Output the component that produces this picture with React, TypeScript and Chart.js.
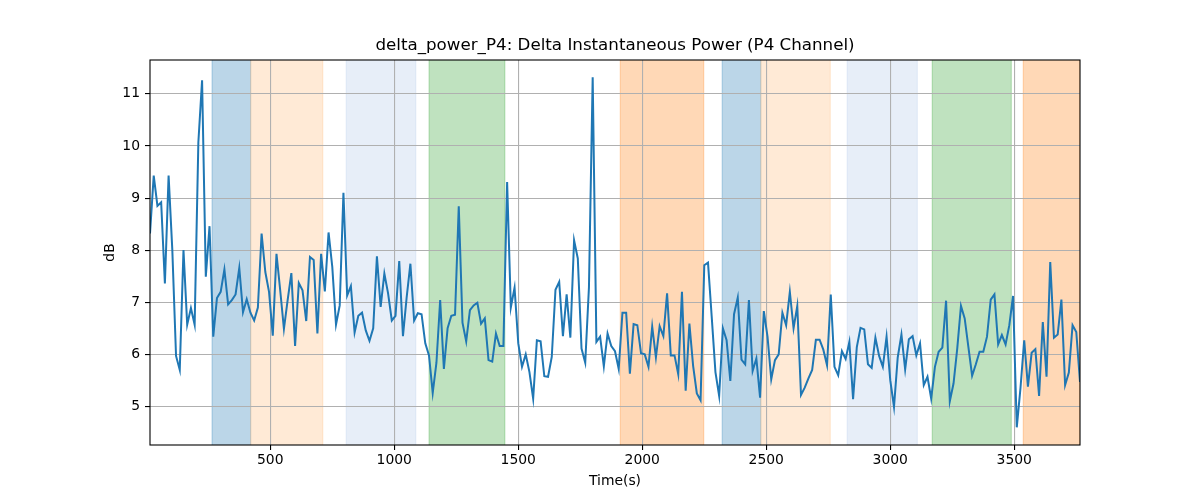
import React, { useEffect, useRef } from 'react';
import { Chart, registerables } from 'chart.js';

Chart.register(...registerables);

const TITLE = 'delta_power_P4: Delta Instantaneous Power (P4 Channel)';
const FONT = 'DejaVu Sans';

// one sample every 15 s, starting at t = 15 s
const SAMPLE_START = 15;
const SAMPLE_STEP = 15;

const power = [
  8.32, 9.43, 8.85, 8.92, 7.36, 9.43, 8.0, 5.97, 5.7, 8.0,
  6.57, 6.89, 6.57, 10.07, 11.26, 7.49, 8.46, 6.34, 7.08, 7.2,
  7.63, 6.96, 7.04, 7.15, 7.66, 6.81, 7.06, 6.8, 6.65, 6.9,
  8.32, 7.58, 7.2, 6.36, 7.93, 7.23, 6.49, 7.04, 7.56, 6.16,
  7.37, 7.23, 6.64, 7.87, 7.81, 6.4, 7.93, 7.21, 8.34, 7.68,
  6.57, 6.94, 9.1, 7.13, 7.31, 6.42, 6.74, 6.8, 6.46, 6.26,
  6.5, 7.88, 6.91, 7.55, 7.17, 6.65, 6.74, 7.79, 6.35, 7.1,
  7.74, 6.65, 6.79, 6.77, 6.21, 5.98, 5.26, 5.84, 7.04, 5.72,
  6.5, 6.74, 6.76, 8.84, 6.61, 6.25, 6.85, 6.94, 6.99, 6.59,
  6.69, 5.89, 5.86, 6.4, 6.16, 6.16, 9.31, 6.9, 7.28, 6.21,
  5.76, 6.0, 5.66, 5.15, 6.27, 6.25, 5.58, 5.57, 5.95, 7.24,
  7.39, 6.35, 7.15, 6.32, 8.19, 7.84, 6.11, 5.84, 7.29, 11.32,
  6.24, 6.34, 5.77, 6.4, 6.16, 6.06, 5.72, 6.8, 6.8, 5.63,
  6.58, 6.56, 6.02, 6.0, 5.76, 6.53, 5.94, 6.54, 6.35, 7.17,
  5.98, 5.98, 5.62, 7.2, 5.3, 6.59, 5.78, 5.25, 5.12, 7.71,
  7.76, 6.72, 5.66, 5.2, 6.5, 6.27, 5.49, 6.77, 7.09, 5.9,
  5.81, 7.04, 5.68, 5.92, 5.17, 6.83, 6.34, 5.52, 5.89, 6.0,
  6.8, 6.56, 7.2, 6.5, 6.93, 5.22, 5.36, 5.54, 5.7, 6.28,
  6.28, 6.09, 5.79, 7.15, 5.76, 5.6, 6.06, 5.91, 6.24, 5.14,
  6.14, 6.51, 6.48, 5.81, 5.74, 6.32, 5.97, 5.76, 6.34, 5.5,
  4.99, 5.94, 6.38, 5.71, 6.29, 6.35, 5.98, 6.21, 5.41, 5.57,
  5.15, 5.76, 6.05, 6.13, 7.03, 5.1, 5.44, 6.11, 6.93, 6.69,
  6.14, 5.59, 5.81, 6.05, 6.05, 6.34, 7.05, 7.15, 6.19, 6.37,
  6.19, 6.56, 7.12, 4.6, 5.35, 6.27, 5.38, 6.03, 6.1, 5.2,
  6.62, 5.57, 7.77, 6.32, 6.38, 7.05, 5.41, 5.65, 6.56, 6.43,
  5.47,
];

const times = power.map((_, i) => SAMPLE_START + SAMPLE_STEP * i);

const xTicks = [500, 1000, 1500, 2000, 2500, 3000, 3500];
const yTicks = [5, 6, 7, 8, 9, 10, 11];

// shaded intervals (seconds)
const spanStarts = [265, 421, 806, 1140, 1911, 2322, 2478, 2826, 3169, 3536];
const spanEnds = [421, 712, 1087, 1446, 2248, 2478, 2758, 3109, 3488, 3765];
const spanColors = [
  'rgba(31,119,180,0.3)',
  'rgba(255,187,120,0.3)',
  'rgba(174,199,232,0.3)',
  'rgba(44,160,44,0.3)',
  'rgba(255,127,14,0.3)',
  'rgba(31,119,180,0.3)',
  'rgba(255,187,120,0.3)',
  'rgba(174,199,232,0.3)',
  'rgba(44,160,44,0.3)',
  'rgba(255,127,14,0.3)',
];

const spanPlugin = {
  id: 'spans',
  beforeDraw(chart: any) {
    const { ctx, chartArea: a, scales } = chart;
    const x = scales.x;
    ctx.save();
    ctx.beginPath();
    ctx.rect(a.left, a.top, a.right - a.left, a.bottom - a.top);
    ctx.clip();
    spanStarts.forEach((s, i) => {
      const x0 = x.getPixelForValue(s);
      const x1 = x.getPixelForValue(spanEnds[i]);
      ctx.fillStyle = spanColors[i];
      ctx.fillRect(x0, a.top, x1 - x0, a.bottom - a.top);
      ctx.strokeStyle = spanColors[i];
      ctx.lineWidth = 1;
      ctx.beginPath();
      ctx.moveTo(x0, a.top);
      ctx.lineTo(x0, a.bottom);
      ctx.moveTo(x1, a.top);
      ctx.lineTo(x1, a.bottom);
      ctx.stroke();
    });
    ctx.restore();
  },
};

// axes frame + title centred over the plot area (matplotlib style)
const framePlugin = {
  id: 'frame',
  afterDatasetsDraw(chart: any) {
    const { ctx, chartArea: a } = chart;
    ctx.save();
    ctx.strokeStyle = '#000';
    ctx.lineWidth = 1.1;
    ctx.strokeRect(a.left, a.top, a.right - a.left, a.bottom - a.top);
    ctx.fillStyle = '#000';
    ctx.font = `16.7px "${FONT}"`;
    ctx.textAlign = 'center';
    ctx.textBaseline = 'middle';
    ctx.fillText(TITLE, (a.left + a.right) / 2, 46);
    ctx.restore();
  },
};

const App = () => {
  const chartRef = useRef<HTMLCanvasElement>(null);

  useEffect(() => {
    const chart = new Chart(chartRef.current as HTMLCanvasElement, {
      type: 'line',
      data: {
        datasets: [
          {
            label: 'delta_power_P4',
            data: times.map((t, i) => ({ x: t, y: power[i] })),
            borderColor: '#1f77b4',
            borderWidth: 2,
            pointRadius: 0,
            tension: 0,
            fill: false,
          },
        ],
      },
      options: {
        animation: false,
        responsive: true,
        maintainAspectRatio: false,
        events: [],
        layout: { padding: { left: 0, right: 120, top: 60, bottom: 0 } },
        scales: {
          x: {
            type: 'linear',
            min: SAMPLE_START,
            max: SAMPLE_START + SAMPLE_STEP * (power.length - 1),
            afterBuildTicks: (scale: any) => {
              scale.ticks = xTicks.map((v) => ({ value: v }));
            },
            afterFit: (scale: any) => {
              scale.height = 55;
            },
            grid: { color: '#b0b0b0', lineWidth: 1.1, tickLength: 5, tickColor: '#000' },
            border: { display: false },
            ticks: {
              color: '#000',
              padding: 2,
              maxRotation: 0,
              font: { family: FONT, size: 13.9 },
              callback: (v: any) => String(v),
            },
            title: {
              display: true,
              text: 'Time(s)',
              color: '#000',
              font: { family: FONT, size: 13.9 },
              padding: { top: 0, bottom: 10 },
            },
          },
          y: {
            type: 'linear',
            min: 4.26,
            max: 11.65,
            afterBuildTicks: (scale: any) => {
              scale.ticks = yTicks.map((v) => ({ value: v }));
            },
            afterFit: (scale: any) => {
              scale.width = 150;
            },
            grid: { color: '#b0b0b0', lineWidth: 1.1, tickLength: 5, tickColor: '#000' },
            border: { display: false },
            ticks: {
              color: '#000',
              padding: 5,
              font: { family: FONT, size: 13.9 },
              callback: (v: any) => String(v),
            },
            title: {
              display: true,
              text: 'dB',
              color: '#000',
              font: { family: FONT, size: 13.9 },
              padding: { top: 102, bottom: 0 },
            },
          },
        },
        plugins: {
          legend: { display: false },
          tooltip: { enabled: false },
          title: { display: false },
        },
      },
      plugins: [spanPlugin, framePlugin],
    } as any);

    return () => chart.destroy();
  }, []);

  return (
    <div style={{ position: 'fixed', left: 0, top: 0, width: 1200, height: 500, background: '#fff' }}>
      <canvas ref={chartRef} />
    </div>
  );
};

export default App;
